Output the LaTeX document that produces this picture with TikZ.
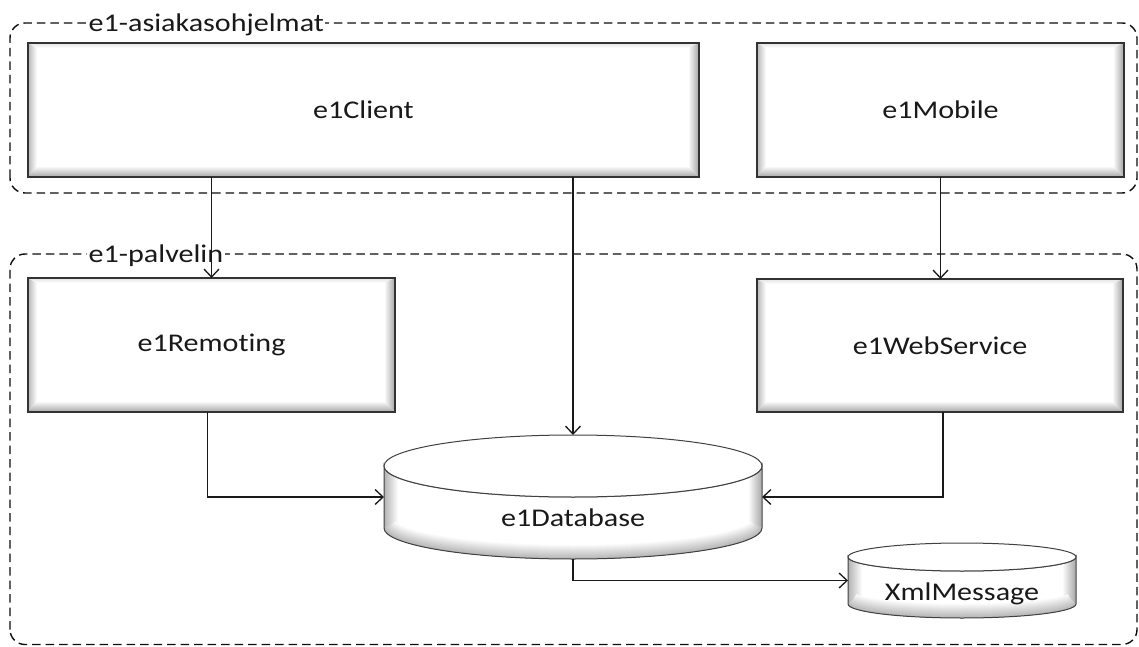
\documentclass[tikz,border=0pt]{standalone}
\usepackage{fontspec}
\setmainfont{Carlito}[FakeStretch=1.18, Ligatures=NoCommon]
\usetikzlibrary{arrows.meta,fit}

\newcommand\lblsize{\fontsize{25.5}{30}\selectfont}

\tikzset{
  x=1pt, y=1pt,
  grp/.style={draw=black!95, line width=1.4pt, dash pattern=on 8.5pt off 5pt, rounded corners=15pt},
  grplabel/.style={anchor=base west, fill=white, inner xsep=1.5pt, inner ysep=1pt, font=\lblsize, text=black!90},
  conn/.style={draw=black!90, line width=1.3pt, -{Straight Barb[length=8pt,width=15pt]}},
  boxborder/.style={draw=black!80, line width=1.6pt, inner sep=0pt, outer sep=0pt},
  cylrim/.style={draw=black!75, line width=1pt},
  lbl/.style={font=\lblsize, text=black!90, inner sep=0pt},
}

% bevelled component box: name, x0, y0, x1, y1, text
\newcommand\bevbox[6]{%
  \fill[white] (#2,#3) rectangle (#4,#5);
  \shade[left color=gray!55, right color=white]
    (#2,#3) -- (#2,#5) -- (#2+9,#5-5) -- (#2+9,#3+11) -- cycle;
  \shade[top color=gray!22, bottom color=white]
    (#2,#5) -- (#4,#5) -- (#4-11,#5-5) -- (#2+9,#5-5) -- cycle;
  \shade[left color=white, right color=gray!72]
    (#4,#3) -- (#4,#5) -- (#4-11,#5-5) -- (#4-11,#3+11) -- cycle;
  \shade[top color=white, bottom color=gray!70]
    (#2,#3) -- (#4,#3) -- (#4-11,#3+11) -- (#2+9,#3+11) -- cycle;
  \node[boxborder, fit={(#2,#3) (#4,#5)}] (#1) {};
  \node[lbl] at (#1.center) {#6};
}

% shaded cylinder: name, cx, top centre y, bottom centre y, rx, ry, text
\newcommand\cylside[5]{%
  (#1-#4,#2) -- (#1-#4,#3)
  arc[start angle=180, end angle=360, x radius=#4, y radius=#5]
  -- (#1+#4,#2)
  arc[start angle=0, end angle=-180, x radius=#4, y radius=#5] -- cycle}
\newcommand\cyl[7]{%
  \fill[white] \cylside{#2}{#3}{#4}{#5}{#6};
  \begin{scope}
    \clip \cylside{#2}{#3}{#4}{#5}{#6};
    \shade[left color=gray!60, right color=white]
      (#2-#5,#4-#6) rectangle (#2-#5+14,#3);
    \shade[left color=white, right color=gray!70]
      (#2+#5-14,#4-#6) rectangle (#2+#5,#3);
    \foreach \i in {1,...,14} {
      \pgfmathsetmacro\lw{30-2*\i}
      \pgfmathtruncatemacro\gv{4*\i}
      \draw[line width=\lw pt, color=gray!\gv]
        (#2-#5,#4) arc[start angle=180, end angle=360, x radius=#5, y radius=#6];
    }
  \end{scope}
  \draw[cylrim] \cylside{#2}{#3}{#4}{#5}{#6};
  \fill[white] (#2,#3) ellipse [x radius=#5, y radius=#6];
  \draw[cylrim] (#2,#3) ellipse [x radius=#5, y radius=#6];
  \node[inner sep=0pt, outer sep=0pt, fit={(#2-#5,#4-#6) (#2+#5,#3+#6)}] (#1) {};
  \node[lbl] at (#2,#4+10) {#7};
}

\begin{document}
\begin{tikzpicture}
\useasboundingbox (0,0) rectangle (1139,646);

% groups
\draw[grp] (10,453) rectangle (1137,623);
\node[grplabel] (g1) at (87,614) {e1-asiakasohjelmat};
\draw[grp] (10,1.5) rectangle (1137,392);
\node[grplabel] (g2) at (87,383) {e1-palvelin};

% components
\bevbox{client}{28}{469}{699}{603}{e1Client}
\bevbox{mobile}{757}{469}{1124}{603}{e1Mobile}
\bevbox{remoting}{28}{234}{395}{368}{e1Remoting}
\bevbox{webservice}{757}{234}{1123}{367}{e1WebService}

% data stores
\cyl{db}{573}{180}{118}{189}{31}{e1Database}
\cyl{xml}{962}{89}{42}{114}{14}{XmlMessage}

% connectors
\draw[conn] (client.south -| remoting.north) -- (remoting.north);
\draw[conn] (client.south -| db.north) -- (db.north);
\draw[conn] (mobile.south) -- (mobile.south |- webservice.north);
\draw[conn] ([xshift=-4pt]remoting.south) |- (db.west);
\draw[conn] ([xshift=3pt]webservice.south) |- (db.east);
\draw[conn] (db.south) |- (xml.west);
\end{tikzpicture}
\end{document}
